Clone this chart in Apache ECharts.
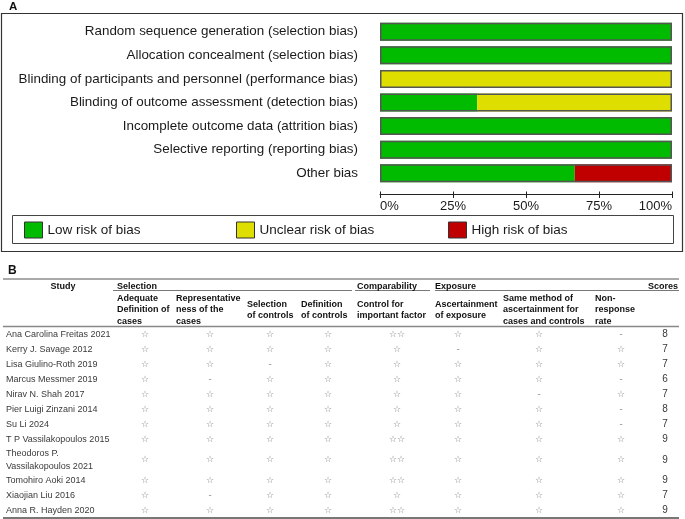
<!DOCTYPE html>
<html>
<head>
<meta charset="utf-8">
<script src="https://cdn.jsdelivr.net/npm/echarts@6/dist/echarts.min.js"></script>
<style>
  html, body { margin: 0; padding: 0; background: #fff; }
  #chart { width: 685px; height: 519px; }
</style>
</head>
<body>
<div id="chart"></div>
<script>
// panel A: risk of bias summary (percent of studies)
const domains = [
  "Random sequence generation (selection bias)",
  "Allocation concealment (selection bias)",
  "Blinding of participants and personnel (performance bias)",
  "Blinding of outcome assessment (detection bias)",
  "Incomplete outcome data (attrition bias)",
  "Selective reporting (reporting bias)",
  "Other bias",
];
const lowRisk = [100, 100, 0, 33.3, 100, 100, 66.7];
const unclearRisk = [0, 0, 100, 66.7, 0, 0, 0];
const highRisk = [0, 0, 0, 0, 0, 0, 33.3];

// panel B: Newcastle-Ottawa stars per study
const studies = [
  "Ana Carolina Freitas 2021",
  "Kerry J. Savage 2012",
  "Lisa Giulino-Roth 2019",
  "Marcus Messmer 2019",
  "Nirav N. Shah 2017",
  "Pier Luigi Zinzani 2014",
  "Su Li 2024",
  "T P Vassilakopoulos 2015",
  "Theodoros P.\nVassilakopoulos 2021",
  "Tomohiro Aoki 2014",
  "Xiaojian Liu 2016",
  "Anna R. Hayden 2020",
];
const adequateDef = [1, 1, 1, 1, 1, 1, 1, 1, 1, 1, 1, 1];
const representativeness = [1, 1, 1, 0, 1, 1, 1, 1, 1, 1, 0, 1];
const selectionControls = [1, 1, 0, 1, 1, 1, 1, 1, 1, 1, 1, 1];
const definitionControls = [1, 1, 1, 1, 1, 1, 1, 1, 1, 1, 1, 1];
const controlFactor = [2, 1, 1, 1, 1, 1, 1, 2, 2, 2, 1, 2];
const ascertainment = [1, 0, 1, 1, 1, 1, 1, 1, 1, 1, 1, 1];
const sameMethod = [1, 1, 1, 1, 0, 1, 1, 1, 1, 1, 1, 1];
const nonResponse = [0, 1, 1, 0, 1, 0, 0, 1, 1, 1, 1, 1];
const scores = [8, 7, 7, 6, 7, 8, 7, 9, 9, 9, 7, 9];

const groupHeaders = ["Selection", "Comparability", "Exposure"];
const colHeaders = [
  "Adequate\nDefinition of\ncases",
  "Representative\nness of the\ncases",
  "Selection\nof controls",
  "Definition\nof controls",
  "Control for\nimportant factor",
  "Ascertainment\nof exposure",
  "Same method of\nascertainment for\ncases and controls",
  "Non-\nresponse\nrate",
];

// layout (pixels)
const FONT = "'Liberation Sans', Arial, sans-serif";
const colLefts = [117, 176, 247, 301, 357, 435, 503, 595];
const colCenters = [145, 210, 270, 328, 397, 458, 539, 621];
const groupCols = [0, 4, 5];
const scoreX = 665;
const nameX = 6;

const starCols = [adequateDef, representativeness, selectionControls, definitionControls,
  controlFactor, ascertainment, sameMethod, nonResponse];

const rowSpans = studies.map(s => (s.includes("\n") ? 1.75 : 1));
const rowCenters = [];
let acc = 0;
rowSpans.forEach(sp => { rowCenters.push(acc + sp / 2); acc += sp; });
const totalSpan = acc;

const starText = n => (n === 0 ? "-" : "\u2606".repeat(n));

const starData = [];
starCols.forEach((col, j) => {
  col.forEach((n, i) => starData.push({ value: [colCenters[j], rowCenters[i], starText(n)] }));
});
const nameData = studies.map((s, i) => ({ value: [nameX, rowCenters[i], s] }));
const scoreData = scores.map((s, i) => ({ value: [scoreX, rowCenters[i], String(s)] }));

const chart = echarts.init(document.getElementById("chart"), null, { renderer: "canvas" });

const graphic = [
  { type: "text", x: 9, y: 1, style: { text: "A", font: "bold 11.5px " + FONT, fill: "#111" } },
  { type: "rect", shape: { x: 1.5, y: 13.5, width: 681, height: 238 },
    style: { fill: "none", stroke: "#333", lineWidth: 1.2 } },
  { type: "rect", shape: { x: 12.5, y: 215.5, width: 661, height: 28 },
    style: { fill: "none", stroke: "#444", lineWidth: 1 } },
  { type: "text", x: 8, y: 265, style: { text: "B", font: "bold 12px " + FONT, fill: "#111" } },
  { type: "line", shape: { x1: 3, y1: 279, x2: 679, y2: 279 }, style: { stroke: "#555", lineWidth: 1 } },
  { type: "line", shape: { x1: 3, y1: 326.5, x2: 679, y2: 326.5 }, style: { stroke: "#888", lineWidth: 1.5 } },
  { type: "line", shape: { x1: 3, y1: 518, x2: 679, y2: 518 }, style: { stroke: "#777", lineWidth: 2 } },
  { type: "line", shape: { x1: 113, y1: 290.5, x2: 352, y2: 290.5 }, style: { stroke: "#555", lineWidth: 0.8 } },
  { type: "line", shape: { x1: 355, y1: 290.5, x2: 430, y2: 290.5 }, style: { stroke: "#555", lineWidth: 0.8 } },
  { type: "line", shape: { x1: 435, y1: 290.5, x2: 679, y2: 290.5 }, style: { stroke: "#555", lineWidth: 0.8 } },
  { type: "text", x: 63, y: 286.5, style: { text: "Study", font: "bold 9px " + FONT, fill: "#111",
    align: "center", verticalAlign: "middle" } },
  { type: "text", x: 678, y: 286.5, style: { text: "Scores", font: "bold 9px " + FONT, fill: "#111",
    align: "right", verticalAlign: "middle" } },
];
groupHeaders.forEach((g, k) => {
  graphic.push({ type: "text", x: colLefts[groupCols[k]], y: 286.5,
    style: { text: g, font: "bold 9px " + FONT, fill: "#111", verticalAlign: "middle" } });
});
colHeaders.forEach((h, j) => {
  graphic.push({ type: "text", x: colLefts[j], y: 310,
    style: { text: h, font: "bold 9px " + FONT, fill: "#111", verticalAlign: "middle", lineHeight: 11.5 } });
});

const legendBase = {
  top: 221.5,
  padding: 0,
  icon: "rect",
  itemWidth: 18,
  itemHeight: 16,
  itemStyle: { borderColor: "#333", borderWidth: 1 },
  textStyle: { fontFamily: FONT, fontSize: 13.5, color: "#1a1a1a" },
};

const barBase = {
  type: "bar",
  stack: "rob",
  barWidth: 18,
  barGap: "-100%",
  xAxisIndex: 0,
  yAxisIndex: 0,
  silent: true,
};

const option = {
  animation: false,
  textStyle: { fontFamily: FONT },
  graphic: graphic,
  legend: [
    Object.assign({ left: 24, data: ["Low risk of bias"] }, legendBase),
    Object.assign({ left: 236, data: ["Unclear risk of bias"] }, legendBase),
    Object.assign({ left: 448, data: ["High risk of bias"] }, legendBase),
  ],
  grid: [
    { left: 380, right: 13, top: 20, height: 165 },
    { left: 0, right: 0, top: 327, height: 191 },
  ],
  xAxis: [
    {
      gridIndex: 0, type: "value", min: 0, max: 100, interval: 25, position: "bottom", offset: 9,
      splitLine: { show: false },
      axisLine: { show: true, lineStyle: { color: "#222", width: 1 } },
      axisTick: { show: true, length: 4, lineStyle: { color: "#222" } },
      axisLabel: { formatter: "{value}%", fontSize: 13, color: "#1a1a1a", margin: 6,
        alignMinLabel: "left", alignMaxLabel: "right" },
    },
    {
      gridIndex: 0, type: "value", min: 0, max: 100, interval: 25, position: "bottom", offset: 9,
      splitLine: { show: false },
      axisLine: { show: false },
      axisTick: { show: true, inside: true, length: 2.5, lineStyle: { color: "#222" } },
      axisLabel: { show: false },
    },
    { gridIndex: 1, type: "value", min: 0, max: 685, show: false },
  ],
  yAxis: [
    {
      gridIndex: 0, type: "category", data: domains, inverse: true,
      axisLine: { show: false }, axisTick: { show: false },
      axisLabel: { fontSize: 13.4, color: "#1a1a1a", margin: 22 },
    },
    { gridIndex: 1, type: "value", min: 0, max: totalSpan, inverse: true, show: false },
  ],
  series: [
    Object.assign({ name: "Low risk of bias", data: lowRisk, itemStyle: { color: "#00bb00" } }, barBase),
    Object.assign({ name: "Unclear risk of bias", data: unclearRisk, itemStyle: { color: "#dede00" } }, barBase),
    Object.assign({ name: "High risk of bias", data: highRisk, itemStyle: { color: "#c00000" } }, barBase),
    Object.assign({}, barBase, {
      name: "outline", stack: "outline", z: 3,
      data: domains.map(() => 100),
      itemStyle: { color: "rgba(0,0,0,0)", borderColor: "#555", borderWidth: 1.5 },
    }),
    {
      type: "scatter", xAxisIndex: 2, yAxisIndex: 1, symbolSize: 0, silent: true,
      data: starData,
      label: { show: true, position: "inside", formatter: p => p.value[2],
        fontFamily: "'DejaVu Sans', sans-serif", fontSize: 9, color: "#666" },
    },
    {
      type: "scatter", xAxisIndex: 2, yAxisIndex: 1, symbolSize: 0, silent: true,
      data: nameData,
      label: { show: true, position: "inside", align: "left", formatter: p => p.value[2],
        fontFamily: FONT, fontSize: 9, color: "#000", lineHeight: 13 },
    },
    {
      type: "scatter", xAxisIndex: 2, yAxisIndex: 1, symbolSize: 0, silent: true,
      data: scoreData,
      label: { show: true, position: "inside", formatter: p => p.value[2],
        fontFamily: FONT, fontSize: 10, color: "#000" },
    },
  ],
};

chart.setOption(option);
</script>
</body>
</html>
